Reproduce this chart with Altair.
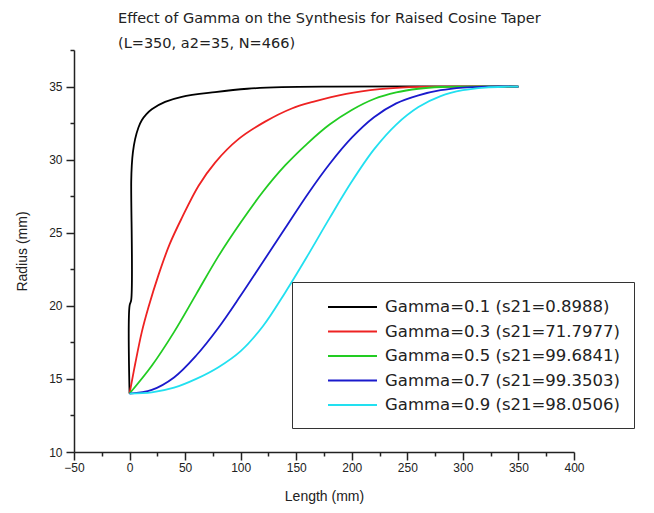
import altair as alt
import pandas as pd

# ---- data ----
labels = [
    "Gamma=0.1 (s21=0.8988)",
    "Gamma=0.3 (s21=71.7977)",
    "Gamma=0.5 (s21=99.6841)",
    "Gamma=0.7 (s21=99.3503)",
    "Gamma=0.9 (s21=98.0506)",
]
colors = ["#000000", "#ee2222", "#22cc22", "#1a1acc", "#22e0f0"]

black_x = [0, 0, 1.5, 1.5, 2, 3, 5, 8, 11, 15, 20, 32, 47, 77, 106, 137, 180, 350]
black_y = [14, 20, 20.4, 28.5, 29.6, 30.5, 31.4, 32.2, 32.7, 33.1, 33.45, 33.95, 34.3, 34.62, 34.85, 34.96, 35.0, 35.0]

red_x = [0, 1, 5, 11, 17, 26, 36, 47, 62, 77, 98, 122, 146, 165, 195, 225, 252, 280, 350]
red_y = [14, 14.4, 16.0, 18.2, 19.9, 22.1, 24.2, 26.0, 28.2, 29.8, 31.4, 32.6, 33.5, 33.95, 34.5, 34.82, 34.96, 35.0, 35.0]

green_x = [0, 20, 40, 60, 80, 100, 120, 140, 160, 180, 200, 220, 240, 260, 280, 300, 350]
green_y = [14, 15.9, 18.2, 20.8, 23.4, 25.7, 27.8, 29.6, 31.1, 32.4, 33.4, 34.15, 34.6, 34.85, 34.97, 35.0, 35.0]

blue_x = [0, 20, 40, 60, 80, 100, 120, 140, 160, 180, 200, 220, 240, 260, 280, 300, 320, 350]
blue_y = [14, 14.25, 15.1, 16.6, 18.5, 20.7, 23.0, 25.3, 27.6, 29.7, 31.5, 32.9, 33.85, 34.4, 34.75, 34.93, 35.0, 35.0]

cyan_x = [0, 20, 40, 60, 80, 100, 120, 140, 160, 180, 200, 220, 240, 260, 280, 300, 320, 340, 350]
cyan_y = [14, 14.08, 14.4, 15.0, 15.8, 16.9, 18.6, 20.9, 23.4, 26.0, 28.5, 30.7, 32.4, 33.6, 34.35, 34.75, 34.93, 34.99, 35.0]

x_ticks = [-50, -25, 0, 25, 50, 75, 100, 125, 150, 175, 200, 225, 250, 275, 300, 325, 350, 375, 400]
y_ticks = [10, 12.5, 15, 17.5, 20, 22.5, 25, 27.5, 30, 32.5, 35, 37.5]

title_lines = ["Effect of Gamma on the Synthesis for Raised Cosine Taper", "(L=350, a2=35, N=466)"]

series_x = [black_x, red_x, green_x, blue_x, cyan_x]
series_y = [black_y, red_y, green_y, blue_y, cyan_y]

rows = []
for lab, xs, ys in zip(labels, series_x, series_y):
    for i, (xv, yv) in enumerate(zip(xs, ys)):
        rows.append({"series": lab, "x": xv, "y": yv, "idx": i})
df = pd.DataFrame(rows)

axis_common = dict(
    grid=False,
    domainColor="#222222",
    tickColor="#222222",
    domainWidth=1.5,
    tickWidth=1.5,
    labelFont="Liberation Sans",
    labelFontSize=12,
    labelColor="#222222",
    titleFont="Liberation Sans",
    titleFontSize=14,
    titleFontWeight="normal",
    titleColor="#222222",
    labelOverlap=False,
    labelFlush=False,
)

x_axis = alt.Axis(
    values=x_ticks,
    title="Length (mm)",
    labelExpr="datum.value % 50 == 0 ? datum.label : ''",
    tickSize={"condition": {"test": "datum.value % 50 != 0", "value": 4}, "value": 8},
    labelPadding=2,
    titlePadding=16,
    **axis_common,
)
y_axis = alt.Axis(
    values=y_ticks,
    title="Radius (mm)",
    labelExpr="datum.value % 5 == 0 ? datum.label : ''",
    tickSize={"condition": {"test": "datum.value % 5 != 0", "value": 4}, "value": 8},
    labelPadding=4,
    titlePadding=19,
    **axis_common,
)

legend = alt.Legend(
    title=None,
    orient="none",
    legendX=218,
    legendY=232,
    symbolType="M-2.5,0H2.5",
    symbolSize=384,
    symbolStrokeWidth=2,
    symbolOffset=35.5,
    labelOffset=21.5,
    labelFont="DejaVu Sans",
    labelFontSize=16.5,
    labelColor="#222222",
    labelLimit=400,
    padding=14,
    rowPadding=4.5,
    strokeColor="#333333",
    fillColor="#ffffff",
)

chart = (
    alt.Chart(df)
    .mark_line(strokeWidth=1.8, clip=True, interpolate="catmull-rom")
    .encode(
        x=alt.X("x:Q", scale=alt.Scale(domain=[-50, 400], nice=False, zero=False), axis=x_axis),
        y=alt.Y("y:Q", scale=alt.Scale(domain=[10, 37.5], nice=False, zero=False), axis=y_axis),
        color=alt.Color("series:N", scale=alt.Scale(domain=labels, range=colors), legend=legend),
        order=alt.Order("idx:Q"),
    )
    .properties(
        width=500,
        height=402,
        title=alt.Title(
            text=title_lines,
            anchor="start",
            frame="group",
            dx=44,
            dy=9,
            fontSize=14.5,
            font="DejaVu Sans",
            fontWeight="normal",
            lineHeight=25,
            offset=2,
            color="#222222",
        ),
        autosize=alt.AutoSizeParams(type="none"),
        padding={"left": 66, "top": 42, "right": 72, "bottom": 53},
    )
    .configure_view(strokeWidth=0)
)

chart.save("out.html", embed_options={"renderer": "svg", "actions": False})
